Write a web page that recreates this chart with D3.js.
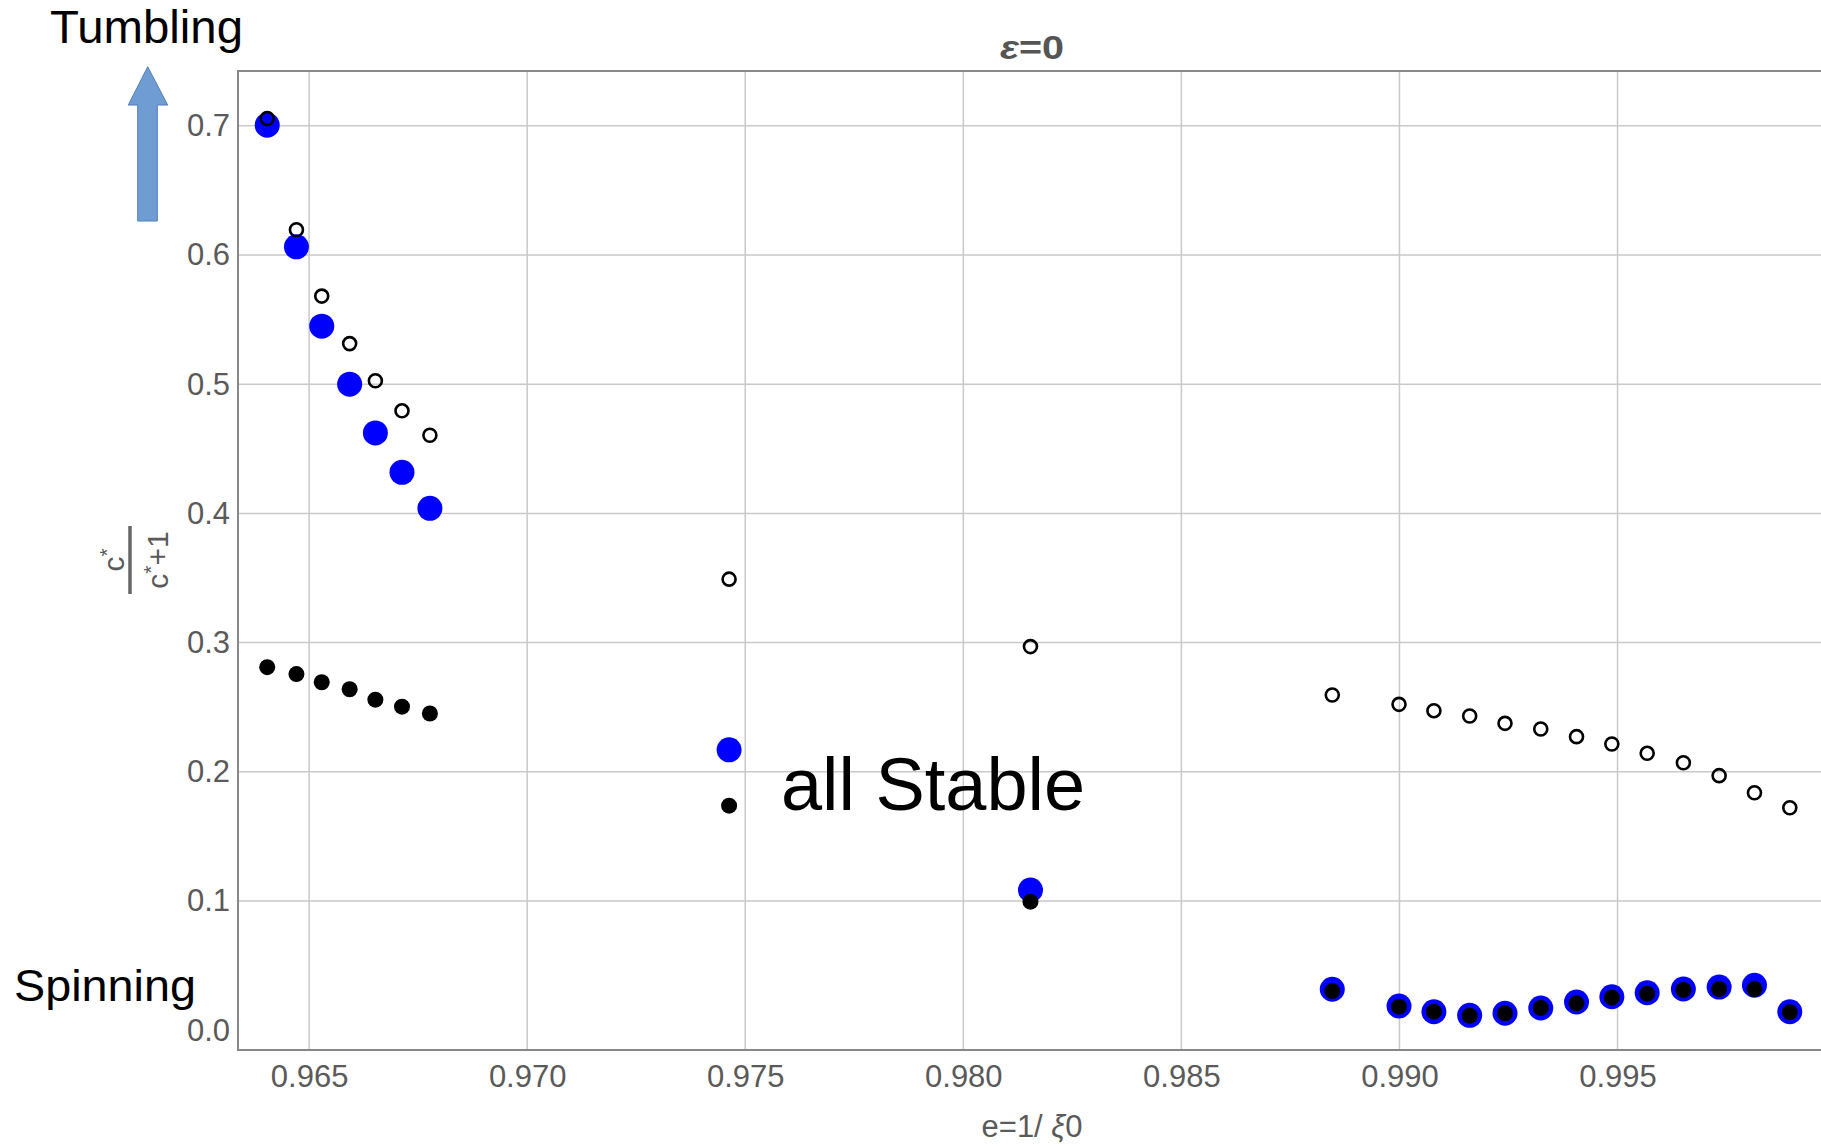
<!DOCTYPE html>
<html>
<head>
<meta charset="utf-8">
<script src="https://cdn.jsdelivr.net/npm/d3@7"></script>
<style>
  body { margin: 0; background: #fff; }
  svg { display: block; }
  .tick text { font-family: "Liberation Sans", Arial, sans-serif; fill: #5a5a5a; }
</style>
</head>
<body>
<script>
// e = 1/xi0 values of every computed point
var eVals = [0.96404, 0.96471, 0.96529, 0.96593, 0.96652, 0.96713, 0.96777,
             0.97463, 0.98154,
             0.98846, 0.98999, 0.99079, 0.99161, 0.99242, 0.99324, 0.99406,
             0.99487, 0.99568, 0.99651, 0.99733, 0.99814, 0.99895];

// open black circles (upper branch)
var openVals = [0.7057, 0.6195, 0.5682, 0.5314, 0.5027, 0.4794, 0.4605,
                0.3491, 0.2969,
                0.2594, 0.2522, 0.2473, 0.2432, 0.2375, 0.2331, 0.2272,
                0.2215, 0.2143, 0.2070, 0.1970, 0.1838, 0.1722];

// big blue dots
var blueVals = [0.7005, 0.6063, 0.5449, 0.5000, 0.4623, 0.4318, 0.4039,
                0.2170, 0.1085,
                0.0317, 0.0187, 0.0143, 0.0115, 0.0131, 0.0172, 0.0218,
                0.0259, 0.0290, 0.0319, 0.0334, 0.0348, 0.0143];

// small black dots
var blackVals = [0.2810, 0.2756, 0.2693, 0.2639, 0.2558, 0.2504, 0.2451,
                 0.1738, 0.0995,
                 0.0303, 0.0182, 0.0143, 0.0112, 0.0131, 0.0172, 0.0208,
                 0.0252, 0.0283, 0.0311, 0.0319, 0.0319, 0.0139];

var xTicks = [0.965, 0.970, 0.975, 0.980, 0.985, 0.990, 0.995];
var yTicks = [0.0, 0.1, 0.2, 0.3, 0.4, 0.5, 0.6, 0.7];

var W = 1821, H = 1147;
var plot = {left: 238, right: 1826, top: 71, bottom: 1050};

var svg = d3.select("body").append("svg")
    .attr("width", W)
    .attr("height", H);

var x = d3.scaleLinear().domain([0.96337, 0.99978]).range([plot.left, plot.right]);
var y = d3.scaleLinear().domain([-0.01533, 0.74241]).range([plot.bottom, plot.top]);

// grid
svg.append("g")
    .selectAll("line.vg")
    .data(xTicks)
  .enter().append("line")
    .attr("x1", function(d) { return x(d); })
    .attr("x2", function(d) { return x(d); })
    .attr("y1", plot.top)
    .attr("y2", plot.bottom)
    .attr("stroke", "#c9c9c9")
    .attr("stroke-width", 1.5);

svg.append("g")
    .selectAll("line.hg")
    .data(yTicks.filter(function(d) { return d > 0; }))
  .enter().append("line")
    .attr("x1", plot.left)
    .attr("x2", plot.right)
    .attr("y1", function(d) { return y(d); })
    .attr("y2", function(d) { return y(d); })
    .attr("stroke", "#c9c9c9")
    .attr("stroke-width", 1.5);

// frame
svg.append("rect")
    .attr("x", plot.left)
    .attr("y", plot.top)
    .attr("width", plot.right - plot.left)
    .attr("height", plot.bottom - plot.top)
    .attr("fill", "none")
    .attr("stroke", "#888")
    .attr("stroke-width", 2);

// axes
var xAxis = svg.append("g")
    .attr("transform", "translate(0," + plot.bottom + ")")
    .call(d3.axisBottom(x).tickValues(xTicks).tickFormat(d3.format(".3f")).tickSize(0).tickPadding(15));
xAxis.select(".domain").remove();
xAxis.selectAll("text").style("font-size", "31px");

var yAxis = svg.append("g")
    .attr("transform", "translate(" + plot.left + ",0)")
    .call(d3.axisLeft(y).tickValues(yTicks).tickFormat(d3.format(".1f")).tickSize(0).tickPadding(8));
yAxis.select(".domain").remove();
yAxis.selectAll("text").style("font-size", "31px");

var pts = eVals.map(function(e, i) {
  return {e: e, open: openVals[i], blue: blueVals[i], black: blackVals[i]};
});

// points
svg.append("g").selectAll("circle")
    .data(pts)
  .enter().append("circle")
    .attr("cx", function(d) { return x(d.e); })
    .attr("cy", function(d) { return y(d.blue); })
    .attr("r", 12.5)
    .attr("fill", "#0000ff");

svg.append("g").selectAll("circle")
    .data(pts)
  .enter().append("circle")
    .attr("cx", function(d) { return x(d.e); })
    .attr("cy", function(d) { return y(d.black); })
    .attr("r", 8)
    .attr("fill", "#000");

svg.append("g").selectAll("circle")
    .data(pts)
  .enter().append("circle")
    .attr("cx", function(d) { return x(d.e); })
    .attr("cy", function(d) { return y(d.open); })
    .attr("r", 6.5)
    .attr("fill", "none")
    .attr("stroke", "#000")
    .attr("stroke-width", 2.6);

// title
var title = svg.append("text")
    .attr("x", (plot.left + plot.right) / 2)
    .attr("y", 59)
    .attr("text-anchor", "middle")
    .attr("textLength", 64)
    .attr("lengthAdjust", "spacingAndGlyphs")
    .style("font-family", "Liberation Sans, Arial, sans-serif")
    .style("font-size", "34px")
    .style("font-weight", "bold")
    .style("fill", "#555");
title.append("tspan").style("font-style", "italic").text("ε");
title.append("tspan").text("=0");

// x label
var xl = svg.append("text")
    .attr("x", (plot.left + plot.right) / 2)
    .attr("y", 1137)
    .attr("text-anchor", "middle")
    .style("font-family", "Liberation Sans, Arial, sans-serif")
    .style("font-size", "31px")
    .style("fill", "#5a5a5a");
xl.append("tspan").text("e=1/ ");
xl.append("tspan").style("font-style", "italic").text("ξ");
xl.append("tspan").text("0");

// y label: c*/(c*+1)
var yl = svg.append("g")
    .attr("transform", "translate(130,560) rotate(-90)")
    .style("font-family", "Liberation Sans, Arial, sans-serif")
    .style("font-size", "30px")
    .style("fill", "#5a5a5a");
var num = yl.append("text").attr("x", 0).attr("y", -6).attr("text-anchor", "middle");
num.append("tspan").text("c");
num.append("tspan").attr("dy", -10).style("font-size", "21px").text("*");
yl.append("line")
    .attr("x1", -34).attr("x2", 34)
    .attr("y1", 0).attr("y2", 0)
    .attr("stroke", "#666")
    .attr("stroke-width", 3.5);
var den = yl.append("text").attr("x", 0).attr("y", 38).attr("text-anchor", "middle");
den.append("tspan").text("c");
den.append("tspan").attr("dy", -10).style("font-size", "21px").text("*");
den.append("tspan").attr("dy", 10).text("+1");

// annotations
svg.append("path")
    .attr("d", d3.line()([[147.7, 66.7], [167.7, 105], [157.3, 105], [157.3, 221],
                          [137.7, 221], [137.7, 105], [128.3, 105]]) + "Z")
    .attr("fill", "#6f9cd2")
    .attr("stroke", "#4f7fbd")
    .attr("stroke-width", 1);

var notes = [
  {t: "Tumbling", x: 50, y: 43, size: 46, len: 193},
  {t: "Spinning", x: 14, y: 1001, size: 44, len: 182},
  {t: "all Stable", x: 781, y: 810, size: 74, len: 304}
];
svg.selectAll("text.note")
    .data(notes)
  .enter().append("text")
    .attr("class", "note")
    .attr("x", function(d) { return d.x; })
    .attr("y", function(d) { return d.y; })
    .attr("textLength", function(d) { return d.len; })
    .attr("lengthAdjust", "spacingAndGlyphs")
    .style("font-family", "Liberation Sans, Arial, sans-serif")
    .style("font-size", function(d) { return d.size + "px"; })
    .style("fill", "#000")
    .text(function(d) { return d.t; });
</script>
</body>
</html>
